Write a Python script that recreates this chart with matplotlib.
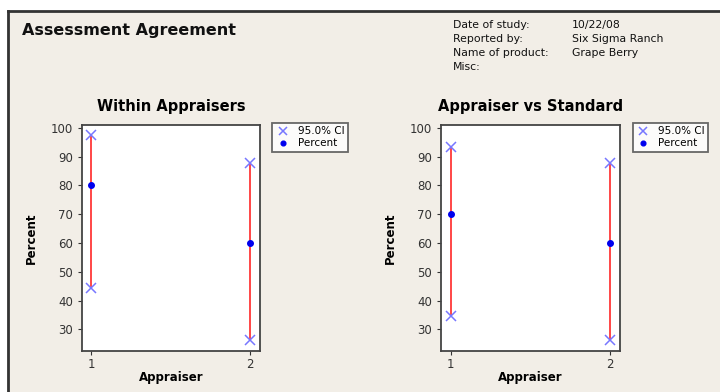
import matplotlib
matplotlib.use("Agg")
import matplotlib.pyplot as plt
from matplotlib.lines import Line2D
from matplotlib.patches import Rectangle

appraisers = [1, 2]

# within appraisers
within_pct = [80.0, 60.0]
within_lo = [44.4, 26.2]
within_hi = [97.5, 87.8]

# appraiser vs standard
std_pct = [70.0, 60.0]
std_lo = [34.8, 26.2]
std_hi = [93.3, 87.8]

info_keys = ["Date of study:", "Reported by:", "Name of product:", "Misc:"]
info_vals = ["10/22/08", "Six Sigma Ranch", "Grape Berry", ""]

W, H = 720, 392
bg = "#f2eee7"

fig = plt.figure(figsize=(W / 100, H / 100), dpi=100)
fig.patch.set_facecolor("white")

# beige report panel with dark left/top border
fig.patches.append(Rectangle((7 / W, -0.05), 1.1, 1 - 11 / H + 0.05,
                             transform=fig.transFigure, facecolor=bg,
                             edgecolor="none", zorder=-5))
fig.lines.append(Line2D([8 / W, 8 / W], [0, 1 - 11 / H], transform=fig.transFigure,
                        color="#333333", lw=2, zorder=-4))
fig.lines.append(Line2D([8 / W, 1], [1 - 11 / H, 1 - 11 / H], transform=fig.transFigure,
                        color="#333333", lw=2, zorder=-4))

fig.text(22 / W, 1 - 30 / H, "Assessment Agreement", fontsize=11.5, fontweight="bold",
         va="center", ha="left", color="#111111")
for i, (k, v) in enumerate(zip(info_keys, info_vals)):
    y = 1 - (25 + i * 14.1) / H
    fig.text(453 / W, y, k, fontsize=7.8, va="center", ha="left", color="#111111")
    fig.text(572 / W, y, v, fontsize=7.8, va="center", ha="left", color="#111111")


def draw_panel(rect, title, pct, lo, hi):
    ax = fig.add_axes(rect)
    ax.set_facecolor("white")
    ax.vlines(appraisers, lo, hi, color="#ff3838", lw=1.3, zorder=2)
    ax.plot(appraisers, lo, "x", color="#7777ff", ms=7, mew=1.1, zorder=3, label="95.0% CI")
    ax.plot(appraisers, hi, "x", color="#7777ff", ms=7, mew=1.1, zorder=3)
    ax.plot(appraisers, pct, "o", color="#0000ee", ms=4, zorder=4, label="Percent")
    ax.set_xlim(0.94, 2.065)
    ax.set_ylim(22.5, 101)
    ax.set_xticks(appraisers)
    ax.set_yticks(range(30, 101, 10))
    ax.tick_params(labelsize=8.5, length=3, color="#333333", labelcolor="#333333")
    ax.tick_params(axis="x", pad=2)
    for s in ax.spines.values():
        s.set_color("#444444")
        s.set_linewidth(1.3)
    ax.set_xlabel("Appraiser", fontsize=8.5, fontweight="bold", labelpad=0)
    ax.set_ylabel("Percent", fontsize=8.5, fontweight="bold", labelpad=9)
    ax.set_title(title, fontsize=10.5, fontweight="bold", pad=10)
    leg = ax.legend(loc="upper left", bbox_to_anchor=(1.07, 1.01), borderaxespad=0,
                    fontsize=7.5, frameon=True, fancybox=False, handlelength=1.3,
                    handletextpad=0.8, borderpad=0.35, labelspacing=0.2, markerscale=0.85)
    leg.get_frame().set_edgecolor("#444444")
    leg.get_frame().set_linewidth(1.3)
    return ax


draw_panel([82 / W, 1 - 351 / H, 178 / W, 226 / H], "Within Appraisers",
           within_pct, within_lo, within_hi)
draw_panel([441 / W, 1 - 351 / H, 179 / W, 226 / H], "Appraiser vs Standard",
           std_pct, std_lo, std_hi)

fig.savefig("out.png", dpi=100, facecolor=fig.get_facecolor())
